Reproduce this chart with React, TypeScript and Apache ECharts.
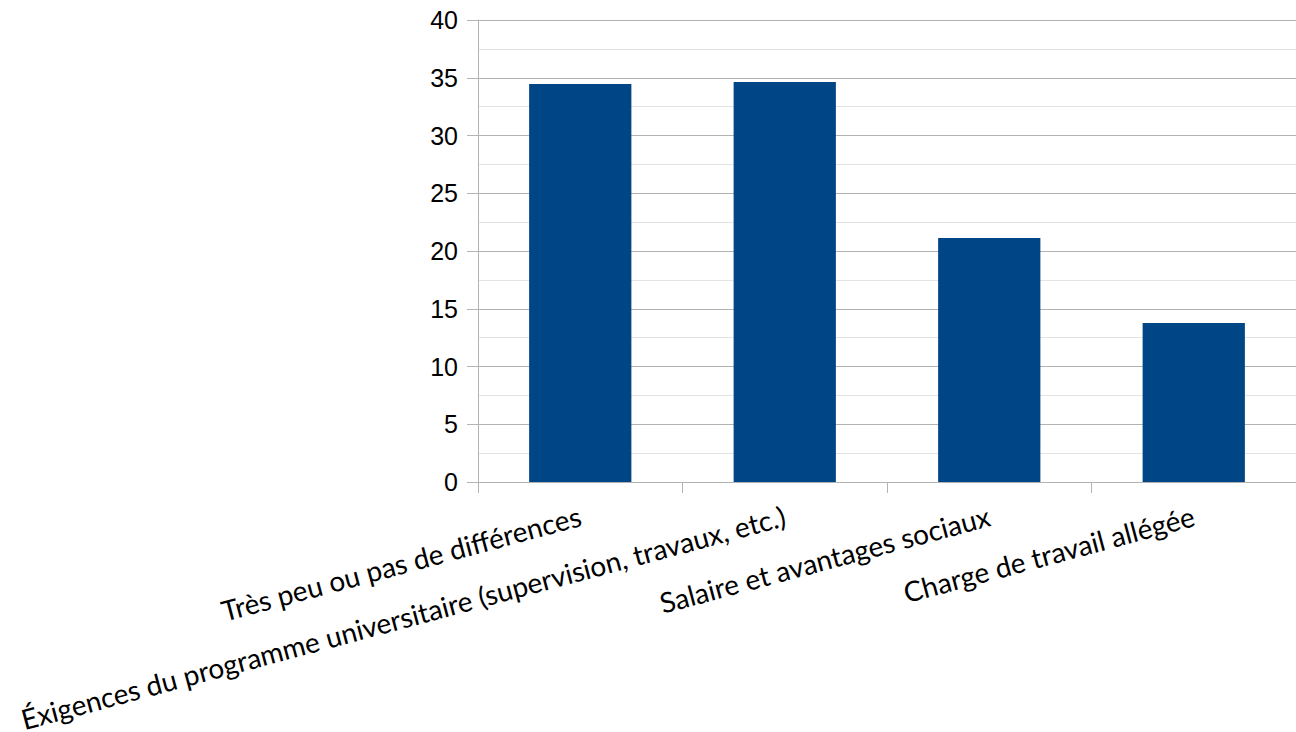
import React, { useEffect, useRef } from "react";
import * as echarts from "echarts";

const categories = [
  "Très peu ou pas de différences",
  "Éxigences du programme universitaire (supervision, travaux, etc.)",
  "Salaire et avantages sociaux",
  "Charge de travail allégée",
];
const values = [34.46, 34.63, 21.13, 13.77];
const yMin = 0;
const yMax = 40;
const yInterval = 5;

export default function App() {
  const ref = useRef<HTMLDivElement>(null);
  useEffect(() => {
    if (!ref.current) return;
    const chart = echarts.init(ref.current, undefined, { renderer: "svg" });
    chart.setOption({
      animation: false,
      backgroundColor: "#ffffff",
      grid: {
        left: 478,
        right: 0,
        top: 20,
        bottom: 250,
        containLabel: false,
        outerBoundsMode: "none",
      },
      xAxis: {
        type: "category",
        data: categories,
        boundaryGap: true,
        axisLine: { show: true, lineStyle: { color: "#b3b3b3", width: 1 } },
        axisTick: { show: true, length: 11, lineStyle: { color: "#b3b3b3" } },
        axisLabel: {
          interval: 0,
          rotate: 15,
          margin: 33,
          color: "#000000",
          fontFamily: "Lato",
          fontSize: 28,
        },
      },
      yAxis: {
        type: "value",
        min: yMin,
        max: yMax,
        interval: yInterval,
        axisLine: { show: true, lineStyle: { color: "#b3b3b3", width: 1 } },
        axisTick: { show: true, length: 11, lineStyle: { color: "#b3b3b3" } },
        axisLabel: {
          margin: 20,
          color: "#000000",
          fontFamily: "Liberation Sans",
          fontSize: 25,
        },
        splitLine: { show: true, lineStyle: { color: "#b3b3b3", width: 1 } },
        minorTick: { show: false, splitNumber: 2 },
        minorSplitLine: { show: true, lineStyle: { color: "#e3e3e3", width: 1 } },
      },
      series: [
        {
          type: "bar",
          data: values,
          barWidth: "50%",
          itemStyle: { color: "#004586" },
        },
      ],
    });
    return () => chart.dispose();
  }, []);
  return (
    <div
      ref={ref}
      style={{ position: "fixed", left: 0, top: 0, width: 1296, height: 732 }}
    />
  );
}
